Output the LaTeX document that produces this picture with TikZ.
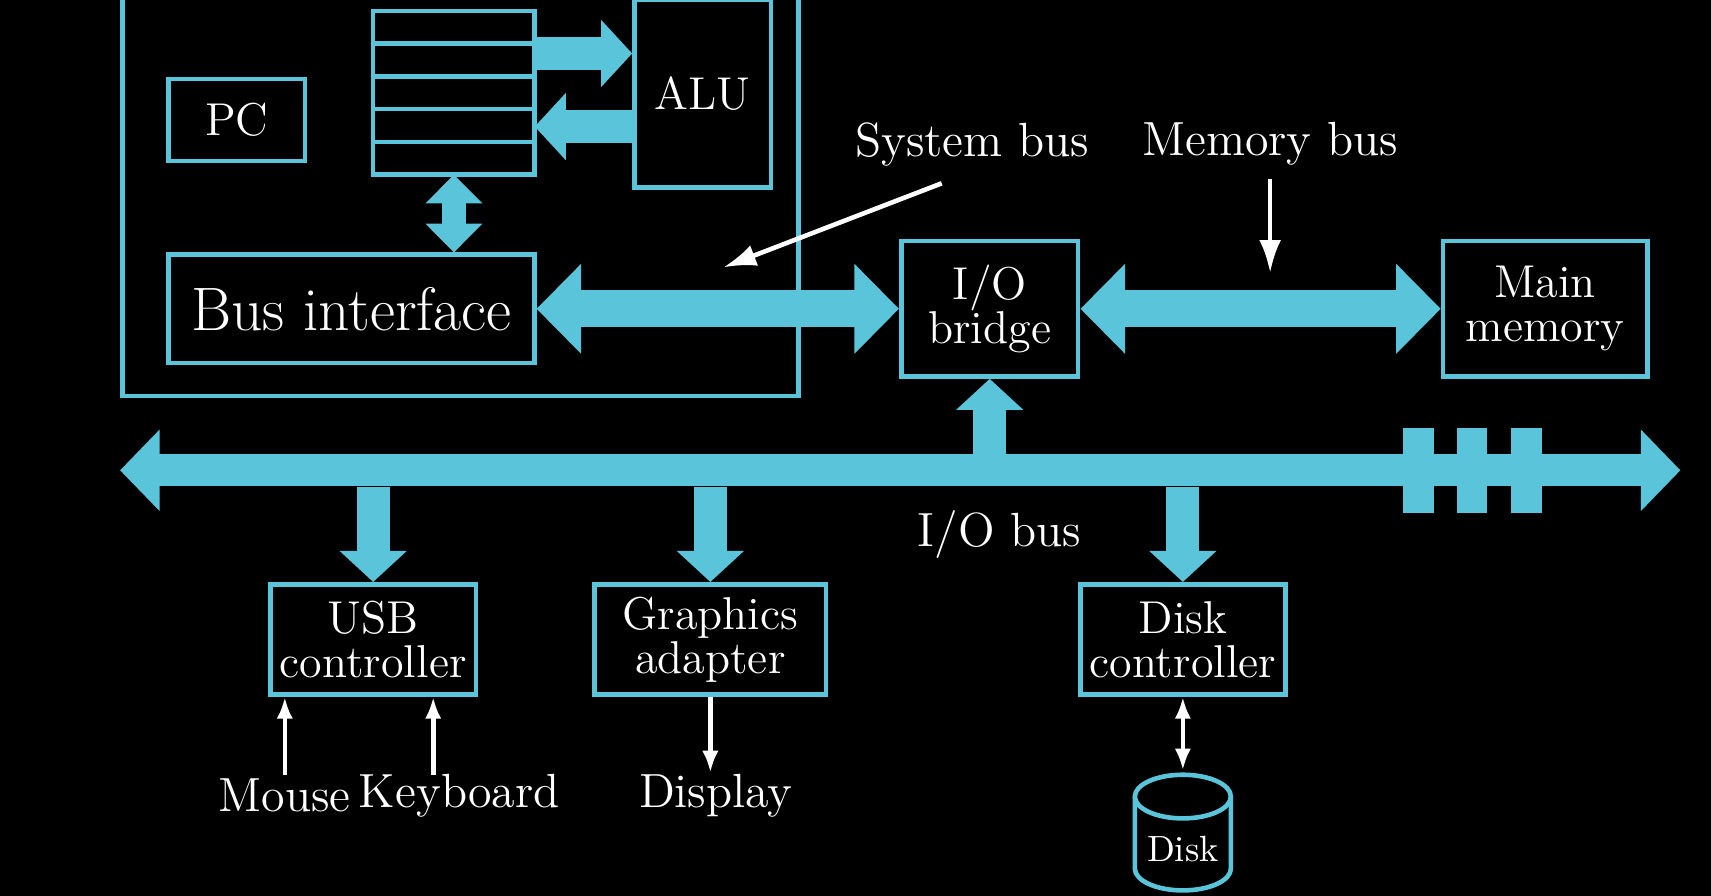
\documentclass[tikz,border=0pt]{standalone}
\usepackage{tikz}
\usetikzlibrary{arrows.meta,positioning,shapes.geometric}
\definecolor{buscyan}{HTML}{5AC5DA}
\begin{document}
\begin{tikzpicture}[x=0.01cm,y=-0.01cm]
            \tikzstyle{unit}=[rectangle, draw = buscyan, line width=1.2pt, text = white, font=\fontsize{12}{11.5}\selectfont, align=center, inner sep=0pt]
            \tikzstyle{reg}=[rectangle, draw = buscyan, line width=1.2pt, minimum width=1.48cm, minimum height=0.3cm, inner sep=0pt, outer sep=0pt]
            \tikzstyle{label}=[text = white, font=\fontsize{12.5}{13}\selectfont]
            \tikzstyle{fat}=[draw = buscyan, line width=0.34cm, {Triangle[length=0pt 1.2, width=0pt 2.35]}-{Triangle[length=0pt 1.2, width=0pt 2.35]}]
            \tikzstyle{fatone}=[draw = buscyan, line width=0.3cm, -{Triangle[length=0pt 0.95, width=0pt 2]}]
            \tikzstyle{wire}=[draw = white, line width=1.2pt, -{Latex[length=3mm, width=2mm]}]
            \fill[black] (0,0) rectangle (1568,821);
            \useasboundingbox (0,0) rectangle (1568,821);
            % cpu
            \draw[buscyan, line width=1.2pt] (112,-20) rectangle (732,363);
            \node[label] (regfile) at (416,-20){Register file};
            \foreach \i in {1,...,5}
                \node[reg] (r\i) at (416,{10+30*\i-15}){};
            \node[unit, minimum width=1.25cm, minimum height=1.72cm] (alu) at (644,86){ALU};
            \node[unit, minimum width=1.25cm, minimum height=0.75cm] (pc) at (217,110){PC};
            \node[unit, minimum width=3.35cm, minimum height=0.99cm, font=\fontsize{16}{16}\selectfont] (busif) at (322,283){Bus interface};
            \draw[draw = buscyan, line width=0.22cm, {Triangle[length=0pt 1.2, width=0pt 2.3]}-{Triangle[length=0pt 1.2, width=0pt 2.3]}] (r5.south) -- (busif.north -| r5.south);
            \draw[fatone] (r2.east |- 0,49) -- (alu.west |- 0,49);
            \draw[fatone] (alu.west |- 0,116) -- (r4.east |- 0,116);
            % bridge and memory
            \node[unit, minimum width=1.62cm, minimum height=1.24cm] (bridge) at (907,283){I/O\\bridge};
            \node[unit, minimum width=1.87cm, minimum height=1.24cm] (mem) at (1416,283){Main\\memory};
            \draw[fat] (busif.east) -- (bridge.west);
            \draw[fat] (bridge.east) -- (mem.west);
            \node[label] (sysbus) at (891,132){System bus};
            \node[label] (membus) at (1164,132){Memory bus};
            \coordinate (sysend) at (663,245);
            \coordinate (memend) at (1164,250);
            \draw[wire] (863,168) -- (sysend);
            \draw[wire] (membus.south) -- (memend);
            % i/o bus
            \coordinate (iol) at (110,431);
            \coordinate (ior) at (1540,431);
            \draw[draw = buscyan, line width=0.29cm, {Triangle[length=0pt 1.25, width=0pt 2.5]}-{Triangle[length=0pt 1.25, width=0pt 2.5]}] (iol) -- (ior);
            \foreach \x in {1300,1349,1399}
                \fill[buscyan] (\x-14,392) rectangle (\x+14,470);
            \node[label] (iobus) at (916,490){I/O bus};
            \node[unit, minimum width=1.88cm, minimum height=1.01cm] (usb) at (342,586){USB\\controller};
            \node[unit, minimum width=2.12cm, minimum height=1.01cm] (gfx) at (651,586){Graphics\\adapter};
            \node[unit, minimum width=1.88cm, minimum height=1.01cm] (diskc) at (1084,586){Disk\\controller};
            \draw[fatone] (bridge.south |- 0,417) -- (bridge.south);
            \draw[fatone] (usb.north |- 0,446) -- (usb.north);
            \draw[fatone] (gfx.north |- 0,446) -- (gfx.north);
            \draw[fatone] (diskc.north |- 0,446) -- (diskc.north);
            % devices
            \node[label] (mouse) at (261,729){Mouse};
            \node[label] (kbd) at (421,729){Keyboard};
            \node[label] (disp) at (656,729){Display};
            % disk drum
            \draw[buscyan, line width=1.2pt] (1084,730) ellipse [x radius=44, y radius=20];
            \draw[buscyan, line width=1.2pt] (1040,730) -- (1040,796) arc [start angle=180, end angle=360, x radius=44, y radius=-20] -- (1128,730);
            \coordinate (disktop) at (1084,706);
            \node[text = white, font=\fontsize{9.5}{9}\selectfont] (disk) at (1084,778){Disk};
            \draw[wire, -{Latex[length=2mm, width=1.5mm]}] (261,710) -- (usb.south -| 261,0);
            \draw[wire, -{Latex[length=2mm, width=1.5mm]}] (397,710) -- (usb.south -| 397,0);
            \draw[wire, -{Latex[length=2mm, width=1.5mm]}] (gfx.south) -- (651,708);
            \draw[wire, {Latex[length=2mm, width=1.5mm]}-{Latex[length=2mm, width=1.5mm]}] (diskc.south) -- (disktop);
\end{tikzpicture}
\end{document}
